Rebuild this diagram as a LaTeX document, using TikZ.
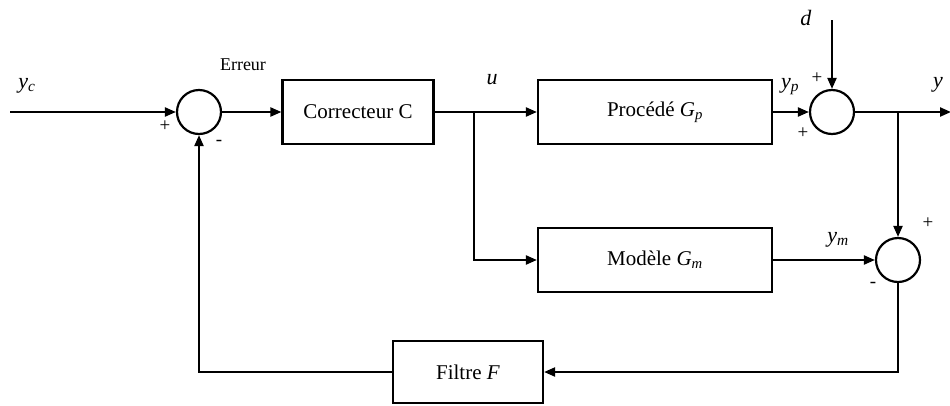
\documentclass[tikz,border=0pt]{standalone}
\usepackage{fontspec}
\setmainfont{Liberation Serif}
\usetikzlibrary{arrows.meta}
\begin{document}
\begin{tikzpicture}[x=1pt,y=-1pt,
  every node/.style={font=\fontsize{21}{25}\selectfont},
  blk/.style={draw,line width=2.2pt,minimum height=64pt,inner sep=0pt},
  sumc/.style={draw,circle,line width=2.2pt,minimum size=44pt,inner sep=0pt},
  sig/.style={line width=2.2pt},
  arr/.style={sig,-{Triangle[length=11pt,width=9pt]}},
  lbl/.style={inner sep=0pt,font=\fontsize{22}{26}\selectfont},
  sgn/.style={inner sep=0pt,font=\fontsize{19}{22}\selectfont}]
\useasboundingbox (0,0) rectangle (950,405);
% blocks
\node[sumc] (s1) at (199,112) {};
\node[blk,minimum width=151pt] (C) at (358,112) {Correcteur C};
\node[blk,minimum width=234pt] (P) at (655,112) {Procédé \textit{G}\textsubscript{\textit{p}}};
\node[sumc] (s2) at (832,112) {};
\node[blk,minimum width=234pt] (M) at (655,260) {Modèle \textit{G}\textsubscript{\textit{m}}};
\node[sumc] (s3) at (898,260) {};
\node[blk,minimum width=150pt,minimum height=62pt] (F) at (468,372) {Filtre \textit{F}};
% coordinates
\coordinate (in) at (10,112);
\coordinate (b1) at (474,112);
\coordinate (b2) at (898,112);
\coordinate (dtop) at (832,20);
\coordinate (out) at (951,112);
% connectors
\draw[arr] (in) -- (s1.west);
\draw[arr] (s1.east) -- (C.west);
\draw[sig] (C.east) -- (b1);
\draw[arr] (b1) -- (P.west);
\draw[arr] (b1) |- (M.west);
\draw[arr] (P.east) -- (s2.west);
\draw[arr] (dtop) -- (s2.north);
\draw[arr] (s2.east) -- (out);
\draw[arr] (b2) -- (s3.north);
\draw[arr] (M.east) -- (s3.west);
\draw[arr] (s3.south) |- (F.east);
\draw[arr] (F.west) -| (s1.south);
% labels
\node[lbl] (lyc) at (27,86) {\textit{y}\textsubscript{\textit{c}}};
\node[lbl,font=\fontsize{18}{21}\selectfont] (lerr) at (243,65) {Erreur};
\node[lbl] (lu) at (492,80) {\textit{u}};
\node[lbl] (lyp) at (790,87) {\textit{y}\textsubscript{\textit{p}}};
\node[lbl] (ld) at (806,18) {\textit{d}};
\node[lbl] (ly) at (938,85) {\textit{y}};
\node[lbl] (lym) at (838,240) {\textit{y}\textsubscript{\textit{m}}};
\node[sgn] (p1) at (165,126) {+};
\node[sgn] (m1) at (219,143) {-};
\node[sgn] (p2) at (817,78) {+};
\node[sgn] (p3) at (803,133) {+};
\node[sgn] (p4) at (928,223) {+};
\node[sgn] (m3) at (873,285) {-};
\end{tikzpicture}
\end{document}
